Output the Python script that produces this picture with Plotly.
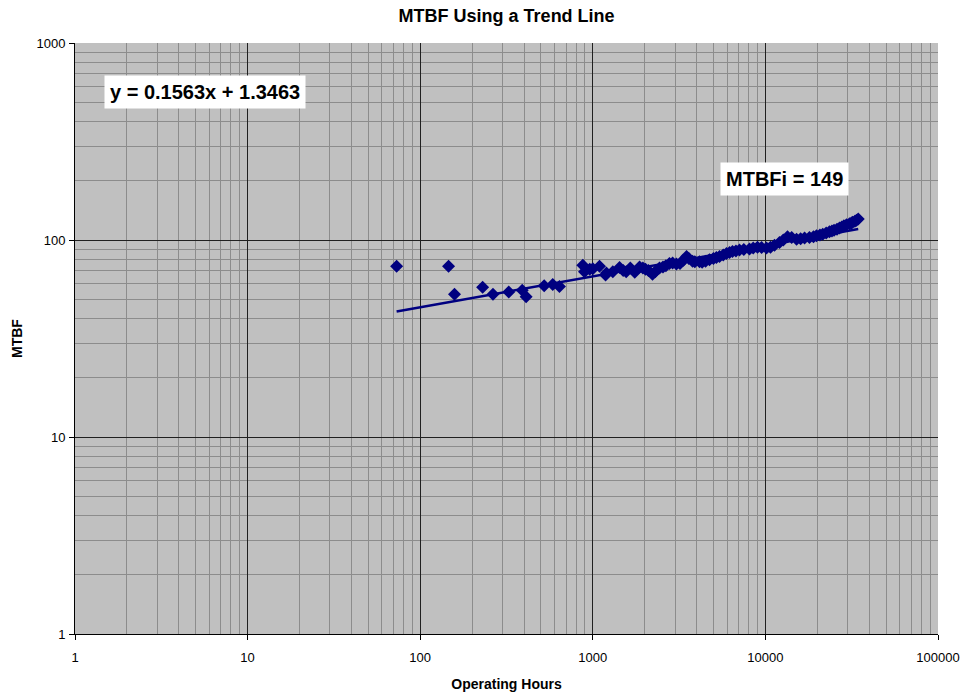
import plotly.graph_objects as go
import numpy as np

hours = [73, 146, 158, 230, 264, 326, 390, 411, 523, 586, 641,
         875, 895, 960, 1000, 1094, 1186, 1200, 1306, 1429, 1500, 1561,
         1650, 1750, 1866, 1950, 2020, 2100, 2218, 2300, 2434, 2550,
         2650, 2780, 2900, 3053, 3200, 3350, 3493, 3600, 3785, 3900,
         4152, 4300, 4500, 4745, 5000, 5200, 5422, 5700, 5953, 6200,
         6446, 6750, 7076, 7500, 8085, 8500, 8999, 9500, 10150, 10700,
         11290, 12070, 12700, 13430, 14200, 15150, 16000, 16860, 18000,
         19000, 19780, 20700, 21500, 22500, 23500, 24300, 25000, 26000,
         26870, 27700, 28500, 29500, 30700, 31500, 32000, 33000, 33700, 34500]
mtbf = [73.5, 73.5, 53, 57.5, 53, 54.5, 55.5, 51.5, 58.5, 59.5, 58,
        74.5, 69, 71, 71.5, 73.5, 66.5, 68, 69, 72.5, 70, 69,
        72, 68.5, 73, 72, 71, 70, 67, 69, 72, 73,
        74, 76, 76.5, 75.5, 76, 79, 82.5, 80.5, 78, 77.5,
        77.5, 77, 78, 79.5, 80.5, 81.5, 82.5, 84, 85.5, 86.5,
        87.5, 88, 89, 89.5, 90, 91, 92, 91.5, 91, 92,
        94, 97, 100, 104, 103, 101, 101.5, 102.5, 103,
        104, 105, 106, 107, 108.5, 110, 111, 112, 113.5,
        115, 116.5, 118, 119.5, 121, 122, 123, 124.5, 126, 128]

# Trend line (power fit in log-log space): log10(y) = 0.1563 log10(x) + 1.3463
slope = 0.1563
intercept = 1.3463
trend_x = [73, 34500]

x_tickvals = [1, 10, 100, 1000, 10000, 100000]
x_ticktext = ["1", "10", "100", "1000", "10000", "100000"]
y_tickvals = [1, 10, 100, 1000]
y_ticktext = ["1", "10", "100", "1000"]

trend_y = [10 ** (slope * np.log10(v) + intercept) for v in trend_x]

x_minor = [k * 10 ** d for d in range(0, 5) for k in range(2, 10)]
y_minor = [k * 10 ** d for d in range(0, 3) for k in range(2, 10)]

navy = "#000080"
fig = go.Figure()
fig.add_trace(go.Scatter(x=trend_x, y=trend_y, mode="lines",
                         line=dict(color=navy, width=2.5), showlegend=False))
fig.add_trace(go.Scatter(x=hours, y=mtbf, mode="markers",
                         marker=dict(symbol="diamond", size=10, color=navy,
                                     line=dict(width=0)),
                         showlegend=False))

font_family = "Liberation Sans, Arial, sans-serif"
axis_common = dict(
    type="log",
    automargin=False,
    showgrid=True, gridcolor="#202020", gridwidth=1,
    showline=True, linecolor="#000000", linewidth=1, mirror=False,
    ticks="outside", ticklen=5, tickcolor="#000000",
    tickfont=dict(family=font_family, size=13, color="#000000"),
    zeroline=False,
)

fig.update_layout(
    width=965, height=698,
    margin=dict(l=75, r=27, t=43, b=64),
    paper_bgcolor="#ffffff",
    plot_bgcolor="#c0c0c0",
    font=dict(family=font_family, color="#000000"),
    title=dict(text="<b>MTBF Using a Trend Line</b>", x=0.525, xanchor="center",
               y=0.986, yanchor="top", font=dict(size=18, family=font_family)),
    xaxis=dict(axis_common, range=[0, 5], tickvals=x_tickvals, ticktext=x_ticktext,
               ticklabelstandoff=6,
               minor=dict(tickmode="array", tickvals=x_minor, showgrid=True,
                          gridcolor="#8c8c8c", gridwidth=1, ticks=""),
               title=dict(text="<b>Operating Hours</b>", font=dict(size=14),
                          standoff=15)),
    yaxis=dict(axis_common, range=[0, 3], tickvals=y_tickvals, ticktext=y_ticktext,
               ticklabelstandoff=1,
               minor=dict(tickmode="array", tickvals=y_minor, showgrid=True,
                          gridcolor="#8c8c8c", gridwidth=1, ticks=""),
               title=dict(text="<b>MTBF</b>", font=dict(size=14), standoff=10)),
)

fig.add_annotation(x=0.756, y=2.751, xref="x", yref="y",
                   text="<b>y = 0.1563x + 1.3463</b>", showarrow=False,
                   bgcolor="#ffffff", borderpad=5,
                   font=dict(size=20, family=font_family, color="#000000"))
fig.add_annotation(x=4.111, y=2.31, xref="x", yref="y",
                   text="<b>MTBFi = 149</b>", showarrow=False,
                   bgcolor="#ffffff", borderpad=5,
                   font=dict(size=20, family=font_family, color="#000000"))

fig.write_html("out.html")
